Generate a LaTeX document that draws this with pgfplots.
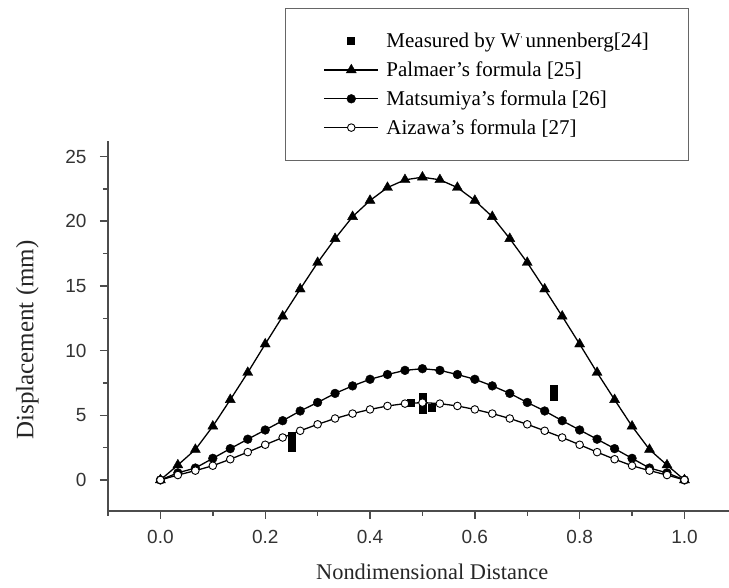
\documentclass[border=0pt]{standalone}
\usepackage{pgfplots}
\pgfplotsset{compat=1.18}
\usepackage{pgfplotstable}
\usepackage{fontspec}
\setmainfont{Liberation Serif}
\newfontfamily\tickfont{Liberation Sans}

% x = nondimensional distance, y = displacement (mm)
\pgfplotstableread{
x        palmaer matsumiya aizawa
0.0000   0.00    0.00      0.00
0.0333   1.15    0.55      0.38
0.0667   2.35    0.92      0.72
0.1000   4.15    1.67      1.10
0.1333   6.20    2.42      1.60
0.1667   8.30    3.15      2.15
0.2000  10.50    3.86      2.72
0.2333  12.65    4.58      3.28
0.2667  14.75    5.33      3.80
0.3000  16.80    5.99      4.30
0.3333  18.65    6.69      4.75
0.3667  20.35    7.27      5.13
0.4000  21.60    7.78      5.45
0.4333  22.60    8.15      5.72
0.4667  23.20    8.47      5.90
0.5000  23.40    8.60      5.98
0.5333  23.20    8.47      5.90
0.5667  22.60    8.15      5.72
0.6000  21.60    7.78      5.45
0.6333  20.35    7.27      5.13
0.6667  18.65    6.69      4.75
0.7000  16.80    5.99      4.30
0.7333  14.75    5.33      3.80
0.7667  12.65    4.58      3.28
0.8000  10.50    3.86      2.72
0.8333   8.30    3.15      2.15
0.8667   6.20    2.42      1.60
0.9000   4.15    1.67      1.10
0.9333   2.35    0.92      0.72
0.9667   1.15    0.55      0.38
1.0000   0.00    0.00      0.00
}\formulas

\pgfplotstableread{
x      y
0.250  2.50
0.250  2.95
0.250  3.45
0.477  6.00
0.500  5.40
0.500  5.90
0.500  6.40
0.517  5.55
0.750  6.40
0.750  6.75
0.750  7.07
}\measured

\begin{document}
\begin{tikzpicture}
\begin{axis}[
  scale only axis,
  width=621pt, height=370pt,
  xmin=-0.1, xmax=1.085,
  ymin=-2.4, ymax=26.2,
  axis lines=left,
  axis line style={-, line width=1.4pt, black!70},
  every outer x axis line/.append style={-},
  every outer y axis line/.append style={-},
  xtick={0,0.2,...,1.0},
  minor xtick={-0.1,0.1,0.3,0.5,0.7,0.9},
  ytick={0,5,...,25},
  minor ytick={2.5,7.5,12.5,17.5,22.5},
  tick align=outside,
  major tick length=8pt,
  minor tick length=5pt,
  tick style={line width=1.4pt, black!70},
  /pgf/number format/assume math mode=true,
  xticklabel style={/pgf/number format/fixed, /pgf/number format/fixed zerofill,
    /pgf/number format/precision=1, yshift=-8pt},
  yticklabel style={xshift=-10pt},
  ticklabel style={font=\tickfont\fontsize{19}{21}\selectfont, text=black!80},
  xlabel={Nondimensional Distance},
  ylabel={Displacement (mm)},
  xlabel style={at={(rel axis cs:0.522,-0.165)}, anchor=center,
    font=\fontsize{22.4}{24}\selectfont, text=black!85},
  ylabel style={at={(rel axis cs:-0.130,0.462)}, anchor=center,
    font=\fontsize{25}{27}\selectfont, text=black!85},
  legend style={at={(rel axis cs:0.285,1.359)}, anchor=north west,
    draw=black!60, line width=1.3pt, fill=white,
    font=\fontsize{21}{23}\selectfont,
    inner xsep=38pt, inner ysep=23pt, row sep=9.5pt,
    nodes={inner sep=1.5pt},
    /tikz/every odd column/.append style={column sep=6pt}},
  legend cell align=left,
  legend image code/.code={\draw[mark repeat=2, mark phase=2]
    plot coordinates {(0pt,0pt) (27pt,0pt) (54pt,0pt)};},
]
\addplot[only marks, mark=square*, mark size=3.5pt, black,
  legend image code/.code={\draw plot coordinates {(27pt,0pt)};}]
  table[x=x, y=y] {\measured};
\addlegendentry{Measured by W\raisebox{0.55ex}{\fontsize{9}{9}\selectfont\textquotesingle}\,unnenberg[24]}

\addplot[black, line width=1.3pt, mark=triangle*, mark size=5.8pt,
  mark options={solid, line width=0.4pt}]
  table[x=x, y=palmaer] {\formulas};
\addlegendentry{Palmaer's formula [25]}

\addplot[black, line width=1.3pt, mark=*, mark size=4.4pt,
  mark options={solid, line width=0.4pt}]
  table[x=x, y=matsumiya] {\formulas};
\addlegendentry{Matsumiya's formula [26]}

\addplot[black, line width=1.3pt, mark=*, mark size=3.8pt,
  mark options={solid, fill=white, line width=0.9pt}]
  table[x=x, y=aizawa] {\formulas};
\addlegendentry{Aizawa's formula [27]}

\coordinate (ll) at (rel axis cs:0,0);
\end{axis}
\pgfresetboundingbox
\path[use as bounding box] (ll) ++(-108pt,-77pt) rectangle ++(729pt,588pt);
\end{tikzpicture}
\end{document}
